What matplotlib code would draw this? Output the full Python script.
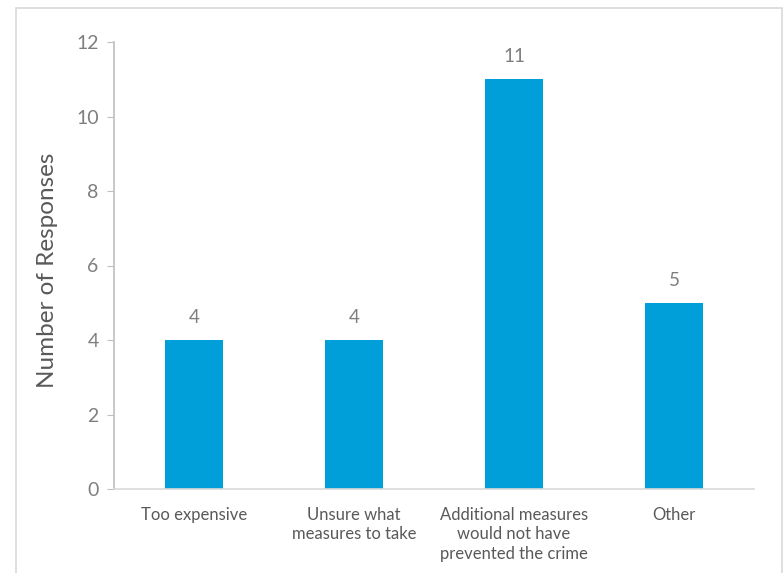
import numpy as np
import matplotlib.pyplot as plt
from matplotlib.patches import Rectangle

categories = ['Too expensive', 'Unsure what\nmeasures to take',
              'Additional measures\nwould not have\nprevented the crime', 'Other']
responses = [4, 4, 11, 5]
y_ticks = [0, 2, 4, 6, 8, 10, 12]

bar_color = '#009FDA'
text_color = '#595959'
num_color = '#7f7f7f'

plt.rcParams['font.family'] = ['Lato', 'DejaVu Sans']

fig = plt.figure(figsize=(7.84, 5.73), dpi=100)
ax = fig.add_axes([114 / 784, 1 - 489 / 573, 640 / 784, 447 / 573])

x = np.arange(len(categories))
ax.bar(x, responses, width=0.3625, color=bar_color, zorder=2)
for xi, v in zip(x, responses):
    ax.annotate(str(v), (xi, v), xytext=(0, 10), textcoords='offset points',
                ha='center', va='bottom', fontsize=13.5, color=num_color)

ax.set_xlim(-0.5, len(categories) - 0.5)
ax.set_ylim(0, 12)
ax.set_yticks(y_ticks)
ax.set_xticks(x)
ax.set_xticklabels(categories, fontsize=12, color=text_color, linespacing=1.25)
ax.tick_params(axis='x', length=0, pad=13)
ax.tick_params(axis='y', length=5, color='#bfbfbf', labelsize=14,
               labelcolor=num_color, pad=6)
ax.set_ylabel('Number of Responses', fontsize=17.5, color=text_color)
ax.yaxis.set_label_coords(-0.0875, 0.49)

for side in ['top', 'right']:
    ax.spines[side].set_visible(False)
ax.spines['left'].set_color('#bfbfbf')
ax.spines['bottom'].set_color('#d9d9d9')
ax.spines['left'].set_linewidth(1.2)
ax.spines['bottom'].set_linewidth(1.2)

# light frame around the chart area
fig.patches.append(Rectangle((16 / 784, -0.05), 766 / 784, 1.05 - 8 / 573,
                             transform=fig.transFigure, fill=False,
                             edgecolor='#d9d9d9', linewidth=1.2))

fig.savefig('out.png', dpi=100)
